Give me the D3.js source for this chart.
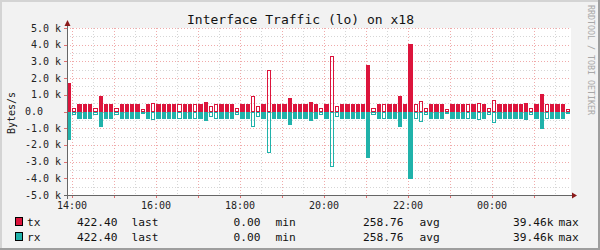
<!DOCTYPE html>
<html><head><meta charset="utf-8">
<script src="https://cdn.jsdelivr.net/npm/d3@7"></script>
<style>
body{margin:0;background:#f2f2f2}
text{font-family:"DejaVu Sans Mono",monospace;}
</style>
</head><body><svg id="c" width="600" height="250"></svg>
<script>
const title = "Interface Traffic (lo) on x18";
const yAxisTitle = "Bytes/s";
const watermark = "RRDTOOL / TOBI OETIKER";
const yTickValues = [-5000,-4000,-3000,-2000,-1000,0,1000,2000,3000,4000,5000];
const yTickLabels = ["-5.0 k","-4.0 k","-3.0 k","-2.0 k","-1.0 k","0.0   ","1.0 k","2.0 k","3.0 k","4.0 k","5.0 k"];
const xTickLabels = ["14:00","16:00","18:00","20:00","22:00","00:00"];
const timeStart = new Date(2020,0,1,13,53,30);
const timeEnd = new Date(2020,0,2,1,53,30);
const stepMinutes = 7.5;

// filled samples (bytes/s), 0 = no fill
const txFill = [1700,0,422,422,422,0,900,422,422,0,422,422,450,422,0,422,0,422,422,422,422,0,440,422,0,422,550,0,0,422,422,422,0,422,440,0,0,422,0,422,422,422,780,422,422,422,550,422,0,422,0,0,422,422,422,422,422,2800,0,422,0,422,422,900,422,4050,0,0,0,422,422,422,0,422,422,422,0,422,0,422,0,0,422,422,422,422,422,500,0,422,1050,0,422,422,422,0];
// outlined (hollow) samples, 0 = none
const txLine = [0,200,0,0,0,200,0,0,0,200,0,0,0,0,150,0,500,0,0,0,0,422,0,0,422,0,0,300,422,0,0,0,200,0,0,950,350,0,2500,0,0,0,0,0,0,0,0,0,200,0,3350,300,0,0,0,0,0,0,200,0,422,0,0,0,0,0,422,650,200,0,0,0,150,0,0,0,422,0,500,0,200,700,0,0,0,0,0,0,200,0,0,422,0,0,0,150];
const rxFill = [1700,0,422,422,422,0,900,422,422,0,422,422,450,422,0,422,0,422,422,422,422,0,440,422,0,422,550,0,0,422,422,422,0,422,440,0,0,422,0,422,422,422,780,422,422,422,550,422,0,422,0,0,422,422,422,422,422,2800,0,422,0,422,422,900,422,4050,0,0,0,422,422,422,0,422,422,422,0,422,0,422,0,0,422,422,422,422,422,500,0,422,1050,0,422,422,422,0];
const rxLine = [0,200,0,0,0,200,0,0,0,200,0,0,0,0,150,0,500,0,0,0,0,422,0,0,422,0,0,300,422,0,0,0,200,0,0,950,350,0,2500,0,0,0,0,0,0,0,0,0,200,0,3350,300,0,0,0,0,0,0,200,0,422,0,0,0,0,0,422,650,200,0,0,0,150,0,0,0,422,0,500,0,200,700,0,0,0,0,0,0,200,0,0,422,0,0,0,150];

const legendNames = ["tx","rx"];
const legendColors = ["#DC143C","#20B2AA"];
const legendLast = ["422.40","422.40"];
const legendMin = ["0.00","0.00"];
const legendAvg = ["258.76","258.76"];
const legendMax = ["39.46k","39.46k"];

const svg = d3.select("#c");
// background + 3D frame
svg.append("rect").attr("x",0).attr("y",0).attr("width",600).attr("height",250).attr("fill","#f2f2f2");
svg.append("rect").attr("x",0).attr("y",0).attr("width",600).attr("height",2).attr("fill","#d4d4d4");
svg.append("rect").attr("x",0).attr("y",0).attr("width",2).attr("height",250).attr("fill","#d4d4d4");
svg.append("rect").attr("x",0).attr("y",248).attr("width",600).attr("height",2).attr("fill","#9e9e9e");
svg.append("rect").attr("x",598).attr("y",0).attr("width",2).attr("height",250).attr("fill","#9e9e9e");

const L=67, R=571, T=28, B=195;
const x = d3.scaleTime().domain([timeStart,timeEnd]).range([L,R]);
const y = d3.scaleLinear().domain([-5000,5000]).range([B,T]);

svg.append("rect").attr("x",L).attr("y",T).attr("width",R-L).attr("height",B-T).attr("fill","#fff");

const grid = svg.append("g").attr("shape-rendering","crispEdges");
const minorCol = "#d6d6d6", majorCol = "#f0aaaa";
// minor horizontal
const yMinor = d3.range(-4500,5000,1000);
grid.selectAll(".hm").data(yMinor).join("line")
  .attr("x1",L).attr("x2",R).attr("y1",d=>Math.round(y(d))+0.5).attr("y2",d=>Math.round(y(d))+0.5)
  .attr("stroke",minorCol).attr("stroke-dasharray","1,2");
// minor vertical (30 min)
const xMinor = d3.timeMinute.every(30).range(timeStart,timeEnd).filter(d=>d.getMinutes()===30);
grid.selectAll(".vm").data(xMinor).join("line")
  .attr("y1",T).attr("y2",B).attr("x1",d=>Math.round(x(d))+0.5).attr("x2",d=>Math.round(x(d))+0.5)
  .attr("stroke",minorCol).attr("stroke-dasharray","1,2");
// major
grid.selectAll(".hM").data(yTickValues).join("line")
  .attr("x1",L).attr("x2",R).attr("y1",d=>Math.round(y(d))+0.5).attr("y2",d=>Math.round(y(d))+0.5)
  .attr("stroke",majorCol).attr("stroke-dasharray","1,2");
const xMajor = d3.timeHour.range(timeStart,timeEnd);
grid.selectAll(".vM").data(xMajor).join("line")
  .attr("y1",T).attr("y2",B).attr("x1",d=>Math.round(x(d))+0.5).attr("x2",d=>Math.round(x(d))+0.5)
  .attr("stroke",majorCol).attr("stroke-dasharray","1,2");
// small ticks on axes
grid.selectAll(".ty").data(yTickValues).join("line")
  .attr("x1",L-3).attr("x2",L).attr("y1",d=>Math.round(y(d))+0.5).attr("y2",d=>Math.round(y(d))+0.5)
  .attr("stroke","#e07070");
grid.selectAll(".tx").data(xMajor).join("line")
  .attr("y1",B).attr("y2",B+3).attr("x1",d=>Math.round(x(d))+0.5).attr("x2",d=>Math.round(x(d))+0.5)
  .attr("stroke","#e07070");

// data
const ms = stepMinutes*60000;
function drawSeries(fill, line, color, sign){
  const g = svg.append("g").attr("shape-rendering","crispEdges");
  const fd = fill.map((v,i)=>({v,i})).filter(d=>d.v>0);
  g.selectAll(".f").data(fd).join("rect")
    .attr("x",d=>Math.round(x(new Date(+timeStart+d.i*ms))))
    .attr("width",d=>Math.max(1,Math.round(x(new Date(+timeStart+(d.i+1)*ms)))-Math.round(x(new Date(+timeStart+d.i*ms)))-1))
    .attr("y",d=> sign>0 ? Math.round(y(d.v)) : Math.round(y(0)))
    .attr("height",d=> Math.abs(Math.round(y(sign*d.v))-Math.round(y(0))))
    .attr("fill",color);
  const ld = line.map((v,i)=>({v,i})).filter(d=>d.v>0);
  g.selectAll(".l").data(ld).join("rect")
    .attr("x",d=>Math.round(x(new Date(+timeStart+d.i*ms)))+0.5)
    .attr("width",d=>Math.max(1,Math.round(x(new Date(+timeStart+(d.i+1)*ms)))-Math.round(x(new Date(+timeStart+d.i*ms)))-2))
    .attr("y",d=> sign>0 ? Math.round(y(d.v))+0.5 : Math.round(y(0))+0.5)
    .attr("height",d=> Math.max(1,Math.abs(Math.round(y(sign*d.v))-Math.round(y(0)))-1))
    .attr("fill","none").attr("stroke",color).attr("stroke-width",1);
}
drawSeries(txFill, txLine, legendColors[0], 1);
drawSeries(rxFill, rxLine, legendColors[1], -1);

// axes lines + arrows
const ax = svg.append("g").attr("shape-rendering","crispEdges");
ax.append("line").attr("x1",L+0.5).attr("x2",L+0.5).attr("y1",B+4).attr("y2",T-3).attr("stroke","#666");
ax.append("line").attr("x1",L-3).attr("x2",R+2).attr("y1",B+0.5).attr("y2",B+0.5).attr("stroke","#666");
svg.append("path").attr("d",`M${L-2.5},${T-2} L${L+0.5},${T-8} L${L+3.5},${T-2} Z`).attr("fill","#8b1a1a");
svg.append("path").attr("d",`M${R+1},${B-2.5} L${R+6},${B+0.5} L${R+1},${B+3.5} Z`).attr("fill","#8b1a1a");

// y labels
svg.append("g").selectAll("text").data(yTickValues).join("text")
  .attr("x",61).attr("y",d=>y(d)+3.5).attr("text-anchor","end")
  .attr("xml:space","preserve").style("white-space","pre")
  .attr("font-size",10).attr("fill","#222").text((d,i)=>yTickLabels[i]);
// x labels
const xTicks = x.ticks(d3.timeHour.every(2));
svg.append("g").selectAll("text").data(xTicks).join("text")
  .attr("x",d=>x(d)+0.5).attr("y",209).attr("text-anchor","middle")
  .attr("font-size",10).attr("fill","#222").text((d,i)=>xTickLabels[i]);

// title
svg.append("text").attr("x",300.5).attr("y",24).attr("text-anchor","middle").attr("font-size",13).attr("fill","#111").text(title);
svg.append("text").attr("transform","translate(15,113) rotate(-90)").attr("text-anchor","middle").attr("font-size",10).attr("fill","#222").text(yAxisTitle);
svg.append("text").attr("transform","translate(588,5) rotate(90)").attr("text-anchor","start").attr("font-size",8.3).attr("fill","#a8a8a8").text(watermark);

// legend
const lg = svg.append("g");
legendNames.forEach((n,i)=>{
  const by = 225.5 + i*15;
  lg.append("rect").attr("x",15.5).attr("y",by-8).attr("width",7).attr("height",8)
    .attr("fill",legendColors[i]).attr("stroke","#000").attr("shape-rendering","crispEdges");
  const t=(xx,s,anchor)=>lg.append("text").attr("x",xx).attr("y",by).attr("text-anchor",anchor).attr("font-size",11.2).attr("fill","#111").text(s);
  t(27,n,"start");
  t(117.5,legendLast[i],"end");
  t(131.5,"last","start");
  t(260.5,legendMin[i],"end");
  t(275.5,"min","start");
  t(403.5,legendAvg[i],"end");
  t(419.5,"avg","start");
  t(553.5,legendMax[i],"end");
  t(558.5,"max","start");
});
</script></body></html>
